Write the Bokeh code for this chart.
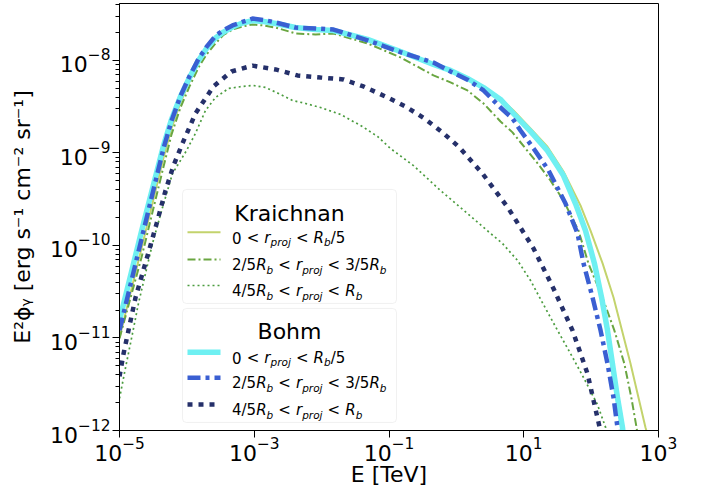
from bokeh.plotting import figure
from bokeh.models import Range1d, FixedTicker, BoxAnnotation
from bokeh.core.properties import value
from bokeh.embed import file_html
from bokeh.resources import INLINE

# ---------------- data: E [TeV] and E^2 phi [erg s^-1 cm^-2 sr^-1] ----------------
E_main = [1.00e-5, 2.12e-5, 4.50e-5, 5.91e-5, 8.04e-5, 1.094e-4, 1.488e-4, 1.956e-4, 2.66e-4,
          3.50e-4, 4.75e-4, 6.69e-4, 9.42e-4, 1.372e-3, 2.07e-3, 4.09e-3, 8.11e-3, 1.50e-2,
          4.80e-2, 0.148, 0.457, 0.818, 1.46, 2.53, 4.52]

# Kraichnan, 0 < r < Rb/5
E_kr_in = E_main + [7.05, 12.6, 22.5, 38.9, 69.5, 98, 148, 215, 384, 641, 761]
F_kr_in = [1.01e-11, 9.3e-11, 8.9e-10, 1.84e-9, 3.51e-9, 5.93e-9, 9.3e-9, 1.30e-8, 1.71e-8,
           2.06e-8, 2.27e-8, 2.51e-8, 2.64e-8, 2.58e-8, 2.45e-8, 2.22e-8, 2.11e-8, 2.11e-8,
           1.69e-8, 1.25e-8, 9.05e-9, 7.8e-9, 6.4e-9, 5.1e-9, 3.88e-9,
           2.88e-9, 1.84e-9, 1.17e-9, 6.3e-10, 2.71e-10, 1.45e-10, 6.4e-11, 2.74e-11, 5.3e-12,
           1.08e-12, 6.9e-13]

# Kraichnan, 2/5 Rb < r < 3/5 Rb
E_kr_mid = E_main + [6.81, 10.6, 16.6, 24.9, 38.9, 64.9, 91.2, 147, 221, 311, 395, 472, 522]
F_kr_mid = [9.9e-12, 7.4e-11, 7.1e-10, 1.58e-9, 3.10e-9, 5.24e-9, 8.4e-9, 1.16e-8, 1.53e-8,
            1.89e-8, 2.16e-8, 2.33e-8, 2.45e-8, 2.39e-8, 2.27e-8, 1.96e-8, 1.91e-8, 1.96e-8,
            1.53e-8, 1.08e-8, 6.9e-9, 5.8e-9, 4.74e-9, 3.43e-9, 2.19e-9,
            1.67e-9, 1.12e-9, 7.5e-10, 5.05e-10, 3.06e-10, 1.45e-10, 6.4e-11, 2.74e-11, 1.21e-11,
            5.3e-12, 2.27e-12, 1.08e-12, 6.9e-13]

# Kraichnan, 4/5 Rb < r < Rb
E_kr_out = [1.00e-5, 1.23e-5, 1.56e-5, 1.91e-5, 2.43e-5, 3.09e-5, 4.35e-5, 6.12e-5, 9.87e-5,
            1.34e-4, 1.89e-4, 2.66e-4, 4.15e-4, 6.69e-4, 9.75e-4, 1.47e-3, 2.29e-3, 3.70e-3,
            5.76e-3, 9.62e-3, 1.91e-2, 4.04e-2, 6.75e-2, 0.105, 0.231, 0.581, 1.46, 3.21, 4.84,
            8.08, 12.6, 19.6, 31.7, 49.4, 77.1, 124, 164, 175]
F_kr_out = [2.22e-12, 4.80e-12, 1.12e-11, 2.36e-11, 4.98e-11, 1.05e-10, 2.58e-10, 6.0e-10, 1.06e-9,
            1.63e-9, 2.88e-9, 3.98e-9, 4.98e-9, 5.24e-9, 5.37e-9, 5.11e-9, 4.40e-9, 3.70e-9,
            3.43e-9, 3.10e-9, 2.61e-9, 1.93e-9, 1.51e-9, 1.12e-9, 7.3e-10, 3.93e-10, 2.22e-10,
            1.35e-10, 1.05e-10, 6.9e-11, 4.19e-11, 2.30e-11, 1.21e-11, 6.8e-12, 3.74e-12,
            1.91e-12, 1.08e-12, 7.8e-13]

# Bohm, 0 < r < Rb/5
E_bo_in = E_main + [7.05, 12.6, 22.5, 38.9, 58.6, 82.4, 112, 143, 175, 207, 246, 292, 313]
F_bo_in = [1.55e-11, 1.42e-10, 1.20e-9, 2.30e-9, 4.08e-9, 6.55e-9, 1.00e-8, 1.35e-8, 1.75e-8,
           2.03e-8, 2.30e-8, 2.54e-8, 2.70e-8, 2.64e-8, 2.51e-8, 2.27e-8, 2.16e-8, 2.11e-8,
           1.69e-8, 1.25e-8, 9.05e-9, 7.8e-9, 6.4e-9, 5.1e-9, 3.79e-9,
           2.67e-9, 1.71e-9, 1.06e-9, 5.7e-10, 2.84e-10, 1.45e-10, 6.4e-11, 2.74e-11, 1.21e-11,
           5.3e-12, 2.27e-12, 1.08e-12, 6.9e-13]

# Bohm, 2/5 Rb < r < 3/5 Rb
E_bo_mid = E_main + [6.81, 8.95, 14.0, 23.3, 41.7, 62.8, 77.1, 105, 138, 175, 215, 246, 264]
F_bo_mid = [1.21e-11, 1.17e-10, 1.12e-9, 2.22e-9, 4.12e-9, 6.75e-9, 1.04e-8, 1.40e-8, 1.85e-8,
            2.12e-8, 2.39e-8, 2.61e-8, 2.84e-8, 2.74e-8, 2.58e-8, 2.27e-8, 2.22e-8, 2.16e-8,
            1.65e-8, 1.23e-8, 9.5e-9, 7.6e-9, 6.2e-9, 4.74e-9, 3.10e-9,
            2.36e-9, 1.75e-9, 1.12e-9, 6.5e-10, 2.84e-10, 1.35e-10, 6.4e-11, 2.74e-11, 1.21e-11,
            5.3e-12, 2.27e-12, 1.08e-12, 6.9e-13]

# Bohm, 4/5 Rb < r < Rb
E_bo_out = [1.00e-5, 1.15e-5, 1.36e-5, 1.73e-5, 2.19e-5, 2.69e-5, 3.66e-5, 4.82e-5, 6.33e-5,
            8.61e-5, 1.34e-4, 2.48e-4, 4.59e-4, 9.42e-4, 2.07e-3, 4.38e-3, 9.62e-3, 2.11e-2,
            4.18e-2, 8.87e-2, 0.176, 0.336, 0.622, 1.11, 2.44, 5.94, 13.96, 27.6, 52.9, 88.3,
            124, 148]
F_bo_out = [3.84e-12, 6.8e-12, 1.21e-11, 2.74e-11, 4.98e-11, 8.4e-11, 1.86e-10, 3.93e-10, 7.3e-10,
            1.27e-9, 2.67e-9, 5.24e-9, 7.6e-9, 8.8e-9, 8.0e-9, 6.9e-9, 6.55e-9, 6.23e-9, 5.24e-9,
            4.08e-9, 3.18e-9, 2.36e-9, 1.67e-9, 1.15e-9, 6.0e-10, 2.51e-10, 9.3e-11, 3.43e-11,
            1.21e-11, 4.13e-12, 1.38e-12, 7.8e-13]

X_TICKS = [1e-5, 1e-3, 1e-1, 1e1, 1e3]
Y_TICKS = [1e-12, 1e-11, 1e-10, 1e-9, 1e-8]
Y_MINOR = [m * t for t in Y_TICKS for m in range(2, 10)]

LEGEND_TITLES = ["Kraichnan", "Bohm"]
# label pieces: (text, kind) kind: n=upright, i=italic, s=italic subscript, rel=relation
ENTRY_1 = [("0", "n"), ("<", "rel"), ("r", "i"), ("proj", "s"), ("<", "rel"),
           ("R", "i"), ("b", "s"), ("/5", "n")]
ENTRY_2 = [("2/5", "n"), ("R", "i"), ("b", "s"), ("<", "rel"), ("r", "i"), ("proj", "s"),
           ("<", "rel"), ("3/5", "n"), ("R", "i"), ("b", "s")]
ENTRY_3 = [("4/5", "n"), ("R", "i"), ("b", "s"), ("<", "rel"), ("r", "i"), ("proj", "s"),
           ("<", "rel"), ("R", "i"), ("b", "s")]

# ---------------- styles ----------------
STY_KR_IN = dict(line_color="#c3d36c", line_width=2)
STY_KR_MID = dict(line_color="#6aa641", line_width=2, line_dash="8 3 2 3")
STY_KR_OUT = dict(line_color="#4b9c3f", line_width=1.7, line_dash="2 3")
STY_BO_IN = dict(line_color="#6ff0f2", line_width=5.5)
STY_BO_MID = dict(line_color="#3a5fd2", line_width=4.5, line_dash="13 5 4 5")
STY_BO_OUT = dict(line_color="#25306a", line_width=4.5, line_dash="5 6")

FONT = "DejaVu Sans"

p = figure(frame_width=539, frame_height=427, x_axis_type="log", y_axis_type="log",
           x_range=Range1d(1e-5, 1e3), y_range=Range1d(1e-12, 4.13e-8),
           output_backend="svg", toolbar_location=None,
           min_border_left=119, min_border_right=42, min_border_top=3, min_border_bottom=59)
p.xgrid.visible = False
p.ygrid.visible = False
p.outline_line_color = "black"
p.outline_line_width = 1
p.background_fill_color = "white"
p.border_fill_color = "white"

p.xaxis.ticker = FixedTicker(ticks=X_TICKS, minor_ticks=[])
p.yaxis.ticker = FixedTicker(ticks=Y_TICKS, minor_ticks=Y_MINOR)
for ax in (p.xaxis[0], p.yaxis[0]):
    ax.major_label_text_font = FONT
    ax.major_label_text_font_size = "22px"
    ax.major_label_text_color = "black"
    ax.axis_label_text_font = FONT
    ax.axis_label_text_font_size = "22px"
    ax.axis_label_text_font_style = "normal"
    ax.axis_label_text_color = "black"
    ax.major_tick_out = 7
    ax.major_tick_in = 0
    ax.minor_tick_out = 4
    ax.minor_tick_in = 0
    ax.axis_line_color = "black"
    ax.major_tick_line_color = "black"
    ax.minor_tick_line_color = "black"
p.xaxis.major_label_standoff = -1
p.yaxis.major_label_standoff = 2
p.xaxis.axis_label_standoff = -2
p.yaxis.axis_label_standoff = 12
p.xaxis.axis_label = "E [TeV]"
p.yaxis.axis_label = "E²ϕᵧ [erg s⁻¹ cm⁻² sr⁻¹]"

# ---------------- curves ----------------
p.line(E_kr_in, F_kr_in, **STY_KR_IN)
p.line(E_kr_mid, F_kr_mid, **STY_KR_MID)
p.line(E_kr_out, F_kr_out, **STY_KR_OUT)
p.line(E_bo_in, F_bo_in, **STY_BO_IN)
p.line(E_bo_mid, F_bo_mid, **STY_BO_MID)
p.line(E_bo_out, F_bo_out, **STY_BO_OUT)

# ---------------- legend (layout in reference pixel space) ----------------
def dx(px):
    return 10 ** (-5 + (px - 119) / 67.375)

def dy(py):
    return 10 ** (-12 + (430 - py) / 92.5)

W = {'0': .636, '1': .636, '2': .636, '3': .636, '4': .636, '5': .636, '<': .838, '/': .337,
     'r': .411, 'R': .695, 'b': .635, 'p': .635, 'o': .612, 'j': .278}
FS, SUB = 15.0, 10.5

for (top, bot) in [(189, 303), (308, 422)]:
    p.add_layout(BoxAnnotation(left=dx(182), right=dx(396), top=dy(top), bottom=dy(bot),
                               fill_color="white", fill_alpha=0.85, line_color="#d0d0d0",
                               line_width=1, border_radius=4, level="underlay"))

p.text(x=[dx(289)] * 2, y=[dy(213.3), dy(331.5)], text=LEGEND_TITLES,
       text_font=value(FONT), text_font_size="22px", text_align="center",
       text_baseline="alphabetic", text_color="black")

rows = [(231.7, ENTRY_1, STY_KR_IN), (259.0, ENTRY_2, STY_KR_MID), (285.0, ENTRY_3, STY_KR_OUT),
        (351.7, ENTRY_1, STY_BO_IN), (377.3, ENTRY_2, STY_BO_MID), (404.0, ENTRY_3, STY_BO_OUT)]
pieces = {"n": ([], [], []), "i": ([], [], []), "s": ([], [], [])}
for ry, entry, sty in rows:
    p.line([dx(187), dx(220)], [dy(ry), dy(ry)], **sty)
    x = 231.5
    base = ry + 5.6
    for txt, kind in entry:
        if kind == "rel":
            x += 0.34 * FS
            pieces["n"][0].append(dx(x)); pieces["n"][1].append(dy(base)); pieces["n"][2].append(txt)
            x += sum(W[c] for c in txt) * FS + 0.34 * FS
        elif kind == "s":
            pieces["s"][0].append(dx(x)); pieces["s"][1].append(dy(base + 4.5)); pieces["s"][2].append(txt)
            x += sum(W[c] for c in txt) * SUB
        else:
            pieces[kind][0].append(dx(x)); pieces[kind][1].append(dy(base)); pieces[kind][2].append(txt)
            x += sum(W[c] for c in txt) * FS

for kind, (xs, ys, ts) in pieces.items():
    p.text(x=xs, y=ys, text=ts, text_font=value(FONT),
           text_font_size=("%gpx" % (SUB if kind == "s" else FS)),
           text_font_style=("normal" if kind == "n" else "italic"),
           text_align="left", text_baseline="alphabetic", text_color="black")

open("out.html", "w").write(file_html(p, INLINE))
